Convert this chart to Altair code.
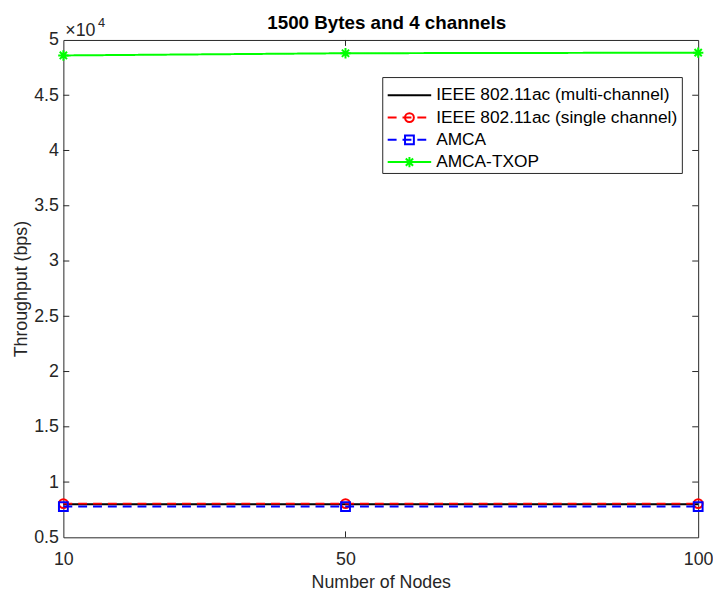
import altair as alt
import pandas as pd

nodes = [10, 50, 100]
series = ["IEEE 802.11ac (multi-channel)", "IEEE 802.11ac (single channel)", "AMCA", "AMCA-TXOP"]
multi = [8000, 8000, 8000]
single = [8050, 8050, 8050]
amca = [7780, 7780, 7780]
txop = [48600, 48800, 48850]
yticks = [5000, 10000, 15000, 20000, 25000, 30000, 35000, 40000, 45000, 50000]
xticks = [10, 50, 100]

colors = ["#000000", "#ff0000", "#0000ff", "#00ff00"]
dashes = [[1, 0], [9, 6], [9, 6], [1, 0]]
ASTER = "M-1,0L1,0M0,-1L0,1M-0.7,-0.7L0.7,0.7M-0.7,0.7L0.7,-0.7"
shapes = [None, "circle", "square", ASTER]
sizes = [0, 80, 80, 110]

W, H = 642, 503
FONT = "Liberation Sans"
AX = "#262626"

xscale = alt.Scale(domain=[10, 100], nice=False, zero=False)
yscale = alt.Scale(domain=[5000, 50000], nice=False, zero=False)
xaxis = alt.Axis(title="Number of Nodes", values=xticks, ticks=False, domain=False, grid=False,
                 labelPadding=13, titlePadding=6, labelFlush=False)
yaxis = alt.Axis(title="Throughput (bps)", values=yticks, ticks=False, domain=False, grid=False,
                 labelExpr="datum.value/10000 + ''", labelPadding=5, titlePadding=3)

layers = []
for i, (s, vals) in enumerate(zip(series, [multi, single, amca, txop])):
    d = pd.DataFrame({"node": nodes, "value": vals, "series": s})
    base = alt.Chart(d)
    if i == 0:
        enc_x = alt.X("node:Q", scale=xscale, axis=xaxis)
        enc_y = alt.Y("value:Q", scale=yscale, axis=yaxis)
    else:
        enc_x = alt.X("node:Q", scale=xscale)
        enc_y = alt.Y("value:Q", scale=yscale)
    layers.append(base.mark_line(color=colors[i], strokeWidth=2, strokeDash=dashes[i]).encode(
        x=enc_x, y=enc_y))
    if shapes[i]:
        layers.append(base.mark_point(shape=shapes[i], filled=False, color=colors[i],
                                      strokeWidth=2, size=sizes[i], opacity=1).encode(
            x=alt.X("node:Q", scale=xscale), y=alt.Y("value:Q", scale=yscale)))

ytdf = pd.DataFrame({"v": yticks[1:-1]})
layers.append(alt.Chart(ytdf).mark_rule(color=AX, strokeWidth=1).encode(
    y=alt.Y("v:Q", scale=yscale), x=alt.value(0), x2=alt.value(6)))
layers.append(alt.Chart(ytdf).mark_rule(color=AX, strokeWidth=1).encode(
    y=alt.Y("v:Q", scale=yscale), x=alt.value(W - 6), x2=alt.value(W)))
xtdf = pd.DataFrame({"n": xticks[1:2]})
layers.append(alt.Chart(xtdf).mark_rule(color=AX, strokeWidth=1).encode(
    x=alt.X("n:Q", scale=xscale), y=alt.value(H - 6), y2=alt.value(H)))
layers.append(alt.Chart(xtdf).mark_rule(color=AX, strokeWidth=1).encode(
    x=alt.X("n:Q", scale=xscale), y=alt.value(0), y2=alt.value(6)))

one = pd.DataFrame({"a": [0]})
layers.append(alt.Chart(one).mark_text(text="1500 Bytes and 4 channels", font=FONT, fontSize=19,
                                       fontWeight="bold", color="#000000", align="center",
                                       baseline="alphabetic").encode(
    x=alt.value(W / 2 + 6), y=alt.value(-11)))
layers.append(alt.Chart(one).mark_text(text="×10", font=FONT, fontSize=18, color=AX,
                                       align="left", baseline="alphabetic").encode(
    x=alt.value(2), y=alt.value(-4)))
layers.append(alt.Chart(one).mark_text(text="4", font=FONT, fontSize=13, color=AX,
                                       align="left", baseline="alphabetic").encode(
    x=alt.value(35), y=alt.value(-13)))

# legend
LX0, LX1, LY0, LY1 = 323, 626, 38, 135
layers.append(alt.Chart(one).mark_rect(fill="white", stroke=AX, strokeWidth=1).encode(
    x=alt.value(LX0), x2=alt.value(LX1), y=alt.value(LY0), y2=alt.value(LY1)))
for i, s in enumerate(series):
    yy = 56 + i * 22.5
    layers.append(alt.Chart(one).mark_rule(color=colors[i], strokeWidth=2,
                                           strokeDash=dashes[i]).encode(
        x=alt.value(LX0 + 5), x2=alt.value(LX0 + 49), y=alt.value(yy)))
    if shapes[i]:
        layers.append(alt.Chart(one).mark_point(shape=shapes[i], filled=False, color=colors[i],
                                                strokeWidth=2, size=sizes[i], opacity=1).encode(
            x=alt.value(LX0 + 27), y=alt.value(yy)))
    layers.append(alt.Chart(one).mark_text(text=s, font=FONT, fontSize=17.5, color="#000000",
                                           align="left", baseline="middle").encode(
        x=alt.value(LX0 + 54), y=alt.value(yy)))

chart = alt.layer(*layers).properties(
    width=W, height=H, background="white",
    autosize=alt.AutoSizeParams(type="none"),
    padding={"left": 56, "right": 15, "top": 29, "bottom": 56},
).configure_view(stroke=AX, strokeWidth=1).configure_axis(
    labelFont=FONT, titleFont=FONT, labelFontSize=18, titleFontSize=18,
    labelColor=AX, titleColor=AX, titleFontWeight="normal", grid=False,
)

chart.save("out.html", embed_options={"renderer": "svg", "actions": False})
